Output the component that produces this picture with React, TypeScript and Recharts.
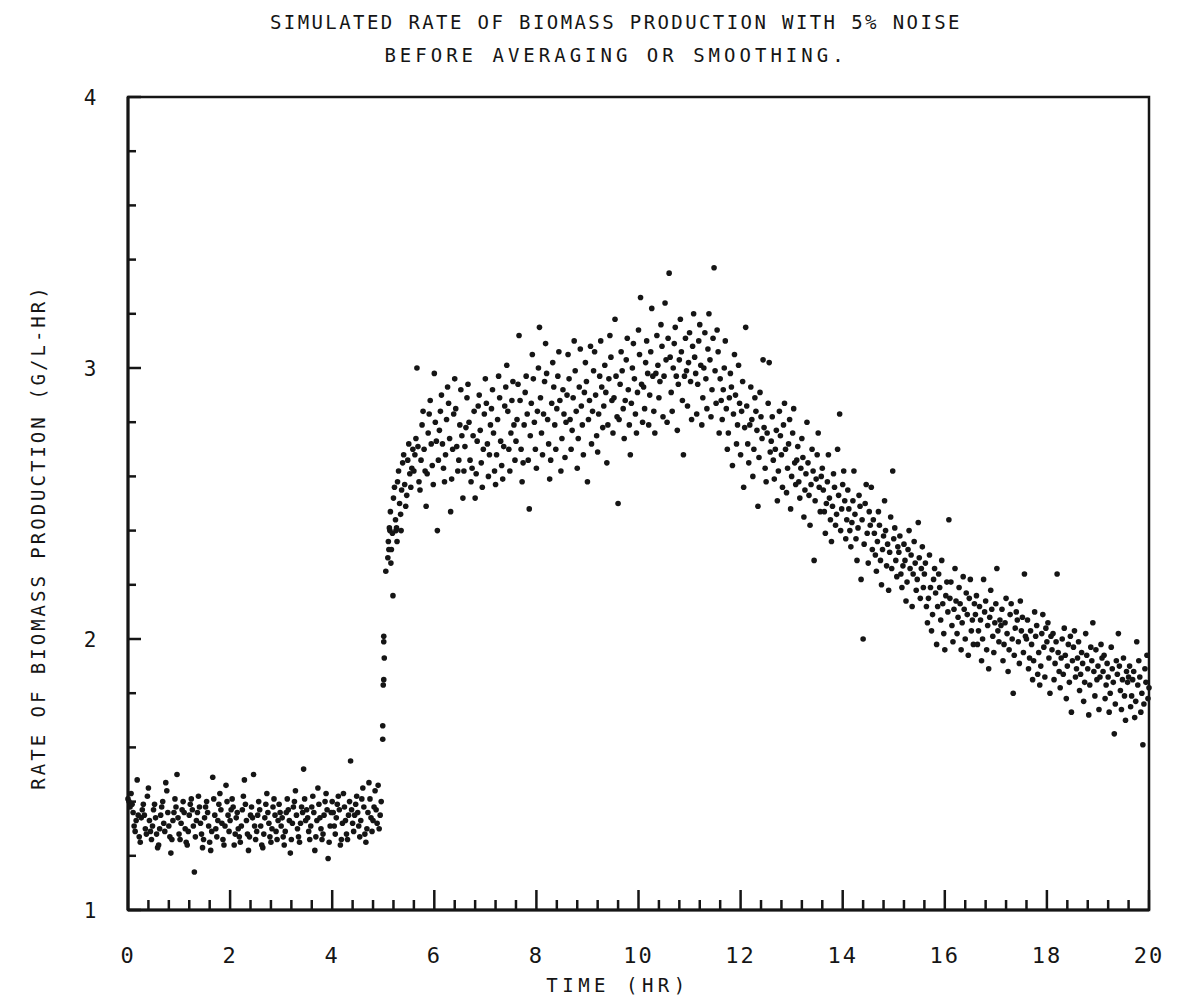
import React from 'react';
import { ScatterChart, Scatter, XAxis, YAxis, ReferenceArea } from 'recharts';

// Low-rate phase: values (G/L-HR x100) sampled every 0.02 hr from t = 0
const lowStart = 0;
const lowStep = 0.02;
const lowPhase = [
  141,140,138,143,139,136,131,129,133,148,135,127,125,134,137,139,135,130,128,142,145,133,129,126,131,
  137,139,134,128,123,124,130,135,138,140,132,129,147,144,136,131,127,121,126,133,136,141,138,150,134,
  128,126,132,137,140,136,130,125,124,129,135,139,141,137,131,114,127,133,136,142,138,132,128,123,126,
  134,138,140,136,131,125,122,129,149,141,135,130,127,133,139,143,137,132,126,124,131,146,140,135,129,
  133,137,141,138,124,128,134,136,130,127,125,131,137,142,148,139,133,128,122,127,135,138,134,150,131,
  126,129,135,140,137,131,124,123,128,134,139,143,136,132,127,125,130,138,141,135,129,126,133,139,136,
  131,134,127,124,129,136,141,137,133,121,126,132,138,140,144,135,130,127,125,132,138,136,152,141,133,
  137,134,129,126,131,138,142,136,122,127,133,145,139,134,130,126,128,135,140,143,137,119,125,131,136,
  140,136,131,128,134,139,142,137,124,126,132,143,138,133,128,126,135,140,155,137,132,129,135,139,142,
  136,131,127,133,141,145,138,128,125,130,136,147,141,134,129,133,138,144,137,132,146,130,135,140,
];

// Transition points [time hr, rate]
const jumpPhase: [number, number][] = [
  [4.99,1.63],[4.99,1.68],[5.0,1.83],[5.01,1.85],[5.02,1.93],[5.01,1.99],[5.01,2.01],
  [5.05,2.25],[5.09,2.30],[5.11,2.33],[5.13,2.40],[5.15,2.28],[5.19,2.16],[5.25,2.40],
  [5.27,2.36],[5.35,2.40],
];

// High-rate phase: values (x100) sampled every 0.02 hr from t = 5.10
const highStart = 5.1;
const highStep = 0.02;
const highPhase = [
  236,241,247,233,239,252,256,244,241,258,262,250,246,255,265,268,257,249,253,266,272,261,256,263,270,
  262,268,274,300,271,258,255,266,279,284,270,262,249,261,276,283,288,272,264,257,298,280,273,240,266,
  277,284,290,272,263,258,268,281,293,287,274,247,259,270,283,296,285,271,262,266,279,292,275,252,262,
  271,278,289,294,280,266,258,263,275,284,252,261,273,286,290,277,265,256,270,283,296,287,272,260,268,
  279,285,292,276,262,257,268,281,297,289,273,264,259,271,286,293,301,284,270,262,276,288,295,279,266,
  273,281,294,312,288,270,258,265,279,291,297,283,266,248,275,287,305,296,280,270,263,284,300,315,289,
  276,268,283,295,309,298,281,272,259,266,287,302,293,279,270,285,297,306,288,262,274,292,283,267,280,
  290,305,296,281,270,277,289,310,299,284,263,274,293,307,286,279,268,291,302,295,258,281,288,308,272,
  284,299,306,290,275,269,283,297,310,293,278,286,301,291,265,279,296,312,304,288,276,289,318,297,282,
  250,281,294,306,299,285,274,288,303,311,292,279,268,287,300,309,296,283,276,291,314,305,326,294,280,
  293,285,302,310,298,279,290,306,322,297,284,276,298,312,301,289,295,316,308,282,297,324,303,280,311,
  335,304,291,284,300,309,315,297,277,294,303,318,306,288,268,297,311,299,286,302,313,295,281,308,320,
  304,298,283,294,310,316,301,279,289,300,313,296,285,307,320,303,282,292,311,337,299,287,314,306,276,
  296,288,281,292,300,310,285,270,276,289,298,293,264,283,305,290,272,279,301,287,268,284,295,256,278,
  315,286,272,265,279,293,281,260,270,289,284,277,249,267,291,282,274,303,278,263,258,276,287,302,269,
  273,282,266,259,270,277,251,262,284,275,268,256,279,287,270,254,263,272,281,248,260,276,285,265,257,
  266,271,258,252,263,274,267,245,255,261,280,265,253,242,257,270,262,229,251,259,268,276,256,247,260,
  263,255,247,239,250,258,268,252,244,236,249,261,256,242,246,270,253,283,240,248,257,262,251,237,244,
  255,248,240,234,243,251,262,246,237,229,241,253,249,222,244,200,235,250,257,239,228,247,242,256,233,
  244,239,231,225,236,247,242,229,220,233,238,251,240,227,235,218,232,245,226,262,237,241,229,223,234,
  232,238,224,219,227,235,229,214,221,233,240,226,231,212,224,236,228,218,222,243,230,215,226,234,219,
  224,228,212,206,215,231,219,203,209,222,226,217,198,212,224,219,207,229,213,202,196,216,221,210,244,
  215,221,205,199,211,226,214,202,208,219,213,196,206,223,211,200,217,209,194,215,222,203,207,198,213,
  209,216,198,203,212,207,192,200,222,210,214,196,205,189,208,218,211,201,195,206,213,226,203,199,207,
  205,211,192,198,206,215,202,188,196,209,213,200,180,194,204,210,207,199,191,214,203,208,195,224,201,
  200,207,189,193,203,198,185,192,210,201,205,187,195,183,190,202,209,197,186,204,199,206,193,180,201,
  196,202,185,191,199,224,195,188,182,193,200,187,204,194,178,190,198,184,201,173,192,197,203,186,189,
  193,199,181,187,195,191,177,184,202,194,189,172,183,197,192,206,188,179,196,185,190,174,186,198,193,
  188,194,178,183,191,186,173,180,197,189,184,165,176,192,187,202,190,181,174,185,193,179,170,188,184,
  186,190,175,179,185,188,171,177,199,183,192,186,173,180,161,176,189,184,194,178,182,
];

const xTicks = [0,0.4,0.8,1.2,1.6,2,2.4,2.8,3.2,3.6,4,4.4,4.8,5.2,5.6,6,6.4,6.8,7.2,7.6,8,8.4,8.8,9.2,9.6,10,10.4,10.8,11.2,11.6,12,12.4,12.8,13.2,13.6,14,14.4,14.8,15.2,15.6,16,16.4,16.8,17.2,17.6,18,18.4,18.8,19.2,19.6,20];
const yTicks = [1,1.2,1.4,1.6,1.8,2,2.2,2.4,2.6,2.8,3,3.2,3.4,3.6,3.8,4];

const titleLine1 = 'SIMULATED RATE OF BIOMASS PRODUCTION WITH 5% NOISE';
const titleLine2 = 'BEFORE AVERAGING OR SMOOTHING.';
const xLabel = 'TIME (HR)';
const yLabel = 'RATE OF BIOMASS PRODUCTION (G/L-HR)';

const points = [
  ...lowPhase.map((v, i) => ({ t: +(lowStart + i * lowStep).toFixed(3), r: v / 100 })),
  ...jumpPhase.map(([t, r]) => ({ t, r })),
  ...highPhase.map((v, i) => ({ t: +(highStart + i * highStep).toFixed(3), r: v / 100 })),
];

const FONT = '"DejaVu Sans Mono", "Liberation Mono", monospace';
const INK = '#151515';

const isMultiple = (v: number, m: number) => Math.abs(v / m - Math.round(v / m)) < 1e-6;

const XTick = (props: any) => {
  const { x, y, payload } = props;
  const v = payload.value;
  const major = isMultiple(v, 2);
  return (
    <g>
      <line x1={x} x2={x} y1={y} y2={y - (major ? 20 : 10)} stroke={INK} strokeWidth={2.5} />
      {major && (
        <text x={x} y={y + 53} textAnchor="middle" fontFamily={FONT} fontSize={22} letterSpacing={2} fill={INK}>
          {Math.round(v)}
        </text>
      )}
    </g>
  );
};

const YTick = (props: any) => {
  const { x, y, payload } = props;
  const v = payload.value;
  const major = isMultiple(v, 1);
  return (
    <g>
      <line x1={x} x2={x + (major ? 13 : 8)} y1={y} y2={y} stroke={INK} strokeWidth={2.5} />
      {major && (
        <text x={x - 38} y={y + 8} textAnchor="middle" fontFamily={FONT} fontSize={21} fill={INK}>
          {Math.round(v)}
        </text>
      )}
    </g>
  );
};

const Dot = (p: any) => <circle cx={p.cx} cy={p.cy} r={2.8} fill={INK} />;

const textStyle: React.CSSProperties = {
  position: 'absolute',
  fontFamily: FONT,
  color: INK,
  whiteSpace: 'nowrap',
  textAlign: 'center',
};

export default function App() {
  return (
    <div style={{ position: 'relative', width: 1170, height: 995 }}>
      <div style={{ ...textStyle, left: 108, width: 1000, top: 3, fontSize: 19, lineHeight: '22px', letterSpacing: 2.4 }}>
        {titleLine1}
      </div>
      <div style={{ ...textStyle, left: 108, width: 1000, top: 36, fontSize: 19, lineHeight: '22px', letterSpacing: 4 }}>
        {titleLine2}
      </div>
      <div style={{ ...textStyle, left: 360, width: 500, top: 966, fontSize: 19, lineHeight: '22px', letterSpacing: 4.5 }}>
        {xLabel}
      </div>
      <div
        style={{
          ...textStyle,
          left: 30 - 350,
          width: 700,
          top: 529 - 11,
          fontSize: 19,
          lineHeight: '22px',
          letterSpacing: 3,
          transform: 'rotate(-90deg)',
        }}
      >
        {yLabel}
      </div>
      <div style={{ position: 'absolute', left: 0, top: 0 }}>
        <ScatterChart width={1170} height={995} margin={{ top: 89, right: 29, bottom: 33, left: 60 }}>
          <XAxis
            type="number"
            dataKey="t"
            domain={[0, 20]}
            ticks={xTicks}
            interval={0}
            height={60}
            tickSize={0}
            tickMargin={0}
            tickLine={false}
            axisLine={{ stroke: INK, strokeWidth: 3 }}
            tick={<XTick />}
          />
          <YAxis
            type="number"
            dataKey="r"
            domain={[1, 4]}
            ticks={yTicks}
            interval={0}
            width={60}
            tickSize={0}
            tickMargin={0}
            tickLine={false}
            axisLine={{ stroke: INK, strokeWidth: 3 }}
            tick={<YTick />}
          />
          <ReferenceArea x1={0} x2={20} y1={1} y2={4} fill="none" stroke={INK} strokeWidth={2.5} ifOverflow="visible" />
          <Scatter data={points} isAnimationActive={false} shape={<Dot />} />
        </ScatterChart>
      </div>
    </div>
  );
}
